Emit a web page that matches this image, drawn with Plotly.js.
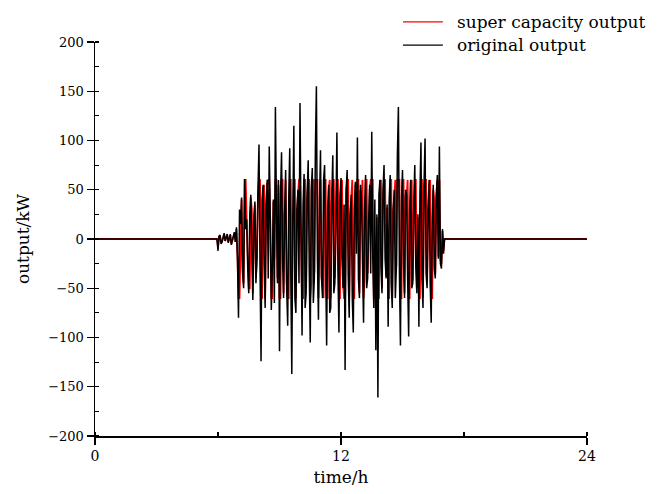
<!DOCTYPE html>
<html>
<head>
<meta charset="utf-8">
<script src="https://cdn.plot.ly/plotly-3.0.1.min.js"></script>
<style>html,body{margin:0;padding:0;background:#fff;}#chart{width:670px;height:494px;}</style>
</head>
<body>
<div id="chart"></div>
<script>
// Active period sampled every 0.05 h from 6.0 h to 17.0 h; flat zero outside.
const activeStart = 6.0;
const activeStep = 0.05;
const dayStart = 0;
const dayEnd = 24;
const seriesNames = ['super capacity output', 'original output'];

const originalOutput = [
  -12, 3, 4, -5, -3, 2, 6, -2, 2, 5, -4, 1, 5, -6, -2, 4, 7, -3, 12, -20,
  -80, 30, 15, 42, -35, -50, 61, 10, 20, -30, -55, 25, 45, -10, -62, 20, 38, -45, -20, 50,
  96, -30, -124, 40, 55, -25, -70, 35, 60, -40, 94, 20, -72, -30, 40, -65, 134, 30, -45, 60,
  -114, 45, 88, -20, -60, 25, 70, -50, -88, 40, 92, -35, -137, 20, 115, -60, -75, 30, 50, -45,
  138, 10, -98, 35, 66, -70, -55, 45, 80, -30, -105, 50, 72, -65, -40, 90, 155, -20, -82, 35,
  90, -40, -60, 60, 75, -25, -108, 30, 55, -75, -70, 40, 85, -55, -45, 20, 108, -30, -95, 45,
  62, -20, -50, 35, -133, 50, 70, -35, -80, 25, 45, -60, -95, 30, 58, -15, 103, -40, -60, 55,
  40, -25, -85, 30, 65, -50, -40, 20, 55, -35, 109, -20, -70, 40, -113, 25, -161, 45, 60, -30,
  -55, 50, 75, -20, -40, 35, -89, 40, 65, -45, -70, 30, 50, -60, -30, 85, 134, -35, -108, 40,
  70, -25, -60, 50, 45, -40, -99, 30, 60, -50, -45, 35, 75, -30, -55, 25, -89, 45, 98, -40,
  -70, 55, 102, -35, -50, 30, 60, -45, -85, 20, 55, -30, -40, 45, 65, -20, 94, -25, -30, 10,
  -15
];

const superCapOutput = [
  -8, 2, 3, -4, -2, 2, 5, -2, 2, 4, -3, 1, 4, -5, -2, 3, 6, -3, 10, -18,
  -60, -60, 12, 40, -30, -45, 60, 60, 18, -28, -50, -50, 42, 30, -55, 18, 35, -40, -18, 45,
  60, 60, -60, -60, 50, 55, -60, 32, 55, 60, 60, 18, -60, -60, 38, -20, 60, 60, -40, 55,
  -60, -60, 60, 60, -55, 22, 60, -45, -60, -60, 60, 60, -60, 18, 60, 60, -60, 28, 45, 60,
  60, 10, -60, -60, 60, 60, -50, 42, 60, 60, -60, -45, 60, 60, -35, 60, 60, 60, -60, 32,
  60, -38, -55, -60, 60, 60, -60, -60, 50, 60, -60, 38, 60, 60, -40, 18, 60, 60, -60, -60,
  58, 60, -45, -60, -60, 45, 60, 60, -60, 22, 40, 60, -60, -60, 55, 30, 60, 60, -55, 50,
  38, 60, -60, -40, 60, 60, -35, 18, 50, 60, 60, 60, -60, -60, -60, 22, -60, -60, 58, 60,
  -50, 45, 60, 60, -38, 32, -60, -60, 60, 60, -60, 28, 45, 60, -28, 60, 60, 60, -60, -60,
  60, 60, -55, 45, 42, 60, -60, -60, 58, 60, -42, 32, 60, 60, -50, 22, -60, -60, 60, 60,
  -60, 50, 60, 60, -45, 28, 55, 60, -60, -60, 50, 40, -35, 42, 60, -18, 60, -22, -25, 8,
  -12
];

function buildSeries(vals) {
  const x = [dayStart, activeStart - activeStep];
  const y = [0, 0];
  for (let i = 0; i < vals.length; i++) {
    x.push(activeStart + i * activeStep);
    y.push(vals[i]);
  }
  x.push(activeStart + vals.length * activeStep);
  y.push(0);
  x.push(dayEnd);
  y.push(0);
  return {x, y};
}

const red = buildSeries(superCapOutput);
const black = buildSeries(originalOutput);

const fontFam = '"DejaVu Serif", "Liberation Serif", serif';
const colors = ['#ff0000', '#000000'];

const data = [
  {x: red.x, y: red.y, type: 'scatter', mode: 'lines', name: seriesNames[0],
   line: {color: colors[0], width: 1.8}},
  {x: black.x, y: black.y, type: 'scatter', mode: 'lines', name: seriesNames[1],
   line: {color: colors[1], width: 1.5}}
];

// manual legend (placed in paper coordinates, allowed to overflow right edge)
const legY = [1.051, 0.992];
const shapes = [];
const annotations = [];
for (let k = 0; k < 2; k++) {
  shapes.push({type: 'line', xref: 'paper', yref: 'paper', x0: 0.626, x1: 0.707,
               y0: legY[k], y1: legY[k], line: {color: colors[k], width: 1.3}});
  annotations.push({xref: 'paper', yref: 'paper', x: 0.732, y: legY[k], xanchor: 'left',
                    yanchor: 'middle', showarrow: false, text: seriesNames[k],
                    font: {family: fontFam, size: 17, color: '#000'}});
}

const layout = {
  width: 670, height: 494,
  margin: {l: 95, r: 83, t: 42, b: 58},
  paper_bgcolor: '#ffffff', plot_bgcolor: '#ffffff',
  font: {family: fontFam, color: '#000', size: 14},
  showlegend: false,
  shapes: shapes,
  annotations: annotations,
  xaxis: {
    range: [0, 24], tickmode: 'linear', tick0: 0, dtick: 12,
    ticks: 'outside', ticklen: 7, tickwidth: 1.3, tickcolor: '#000',
    minor: {dtick: 6, ticks: 'inside', ticklen: 4, tickwidth: 1.2, tickcolor: '#000'},
    showline: true, linecolor: '#000', linewidth: 1.5,
    showgrid: false, zeroline: false,
    tickfont: {family: fontFam, size: 14},
    title: {text: 'time/h', font: {family: fontFam, size: 17}, standoff: 8}
  },
  yaxis: {
    range: [-200, 200], tickmode: 'linear', tick0: 0, dtick: 50,
    ticks: 'outside', ticklen: 7, tickwidth: 1.3, tickcolor: '#000',
    minor: {dtick: 25, ticks: 'inside', ticklen: 4, tickwidth: 1.2, tickcolor: '#000'},
    showline: true, linecolor: '#000', linewidth: 1.5,
    showgrid: false, zeroline: false,
    tickfont: {family: fontFam, size: 13},
    title: {text: 'output/kW', font: {family: fontFam, size: 17}, standoff: 14}
  }
};

Plotly.newPlot('chart', data, layout, {staticPlot: true, displayModeBar: false});
</script>
</body>
</html>
